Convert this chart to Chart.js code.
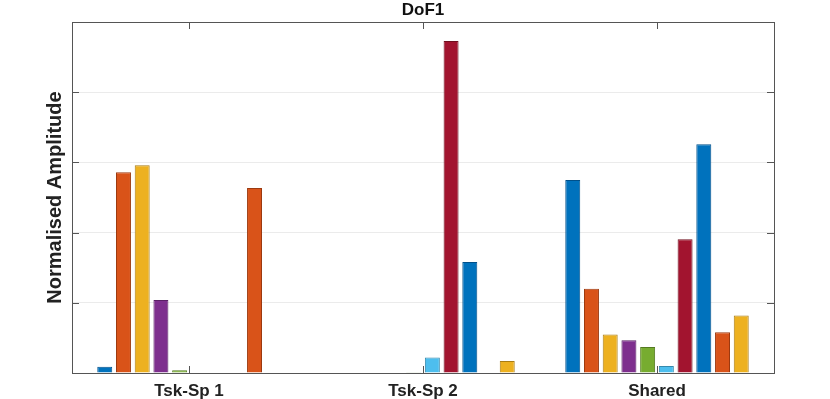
<!DOCTYPE html>
<html lang="en">
  <head>
    <meta charset="UTF-8" />
    <title>DoF1</title>
    <script src="https://cdn.jsdelivr.net/npm/chart.js"></script>
    <style>
      html, body { margin: 0; padding: 0; background: #fff; }
      #wrap { width: 830px; height: 399px; }
    </style>
  </head>
  <body>
    <div id="wrap"><canvas id="chart" width="830" height="399"></canvas></div>

    <script>
      // Categories and bar heights (10 bars per group)
      const categories = ["Tsk-Sp 1", "Tsk-Sp 2", "Shared"];
      const tskSp1 = [0.09, 2.86, 2.96, 1.04, 0.04, 0, 0, 0, 2.635, 0];
      const tskSp2 = [0, 0, 0, 0, 0.01, 0.22, 4.73, 1.58, 0, 0.17];
      const shared = [2.75, 1.2, 0.55, 0.466, 0.37, 0.1, 1.905, 3.26, 0.58, 0.82];
      const yTicks = [0, 1, 2, 3, 4, 5];
      const chartTitle = "DoF1";

      // MATLAB default colour order
      const fills = ["#0072BD", "#D95319", "#EDB120", "#7E2F8E", "#77AC30", "#4DBEEE", "#A2142F", "#0072BD", "#D95319", "#EDB120"];
      const edges = ["#00508a", "#9c3a10", "#a87d14", "#5a2066", "#547a20", "#3589ad", "#70101f", "#00508a", "#9c3a10", "#a87d14"];

      const groups = [tskSp1, tskSp2, shared];
      const datasets = fills.map((c, i) => ({
        label: "s" + (i + 1),
        data: groups.map((g) => g[i]),
        backgroundColor: c,
        borderColor: edges[i],
        borderWidth: 1,
        barPercentage: 0.8,
        categoryPercentage: 0.8,
      }));

      const font = "'Liberation Sans', Arial, Helvetica, sans-serif";

      // box around axes + inward tick marks + title centred over the axes, like MATLAB
      const boxPlugin = {
        id: "box",
        afterDraw(chart) {
          const { ctx, chartArea: a, scales } = chart;
          ctx.save();
          ctx.strokeStyle = "#555";
          ctx.lineWidth = 1;
          ctx.strokeRect(Math.round(a.left) + 0.5, Math.round(a.top) + 0.5,
            Math.round(a.right - a.left), Math.round(a.bottom - a.top));
          ctx.beginPath();
          yTicks.forEach((v) => {
            const y = Math.round(scales.y.getPixelForValue(v)) + 0.5;
            ctx.moveTo(a.left, y); ctx.lineTo(a.left + 7, y);
            ctx.moveTo(a.right, y); ctx.lineTo(a.right - 7, y);
          });
          categories.forEach((c, i) => {
            const x = Math.round(scales.x.getPixelForValue(i)) + 0.5;
            ctx.moveTo(x, a.bottom); ctx.lineTo(x, a.bottom - 7);
            ctx.moveTo(x, a.top); ctx.lineTo(x, a.top + 7);
          });
          ctx.stroke();

          ctx.fillStyle = "#111";
          ctx.font = "bold 17px " + font;
          ctx.textAlign = "center";
          ctx.textBaseline = "alphabetic";
          ctx.fillText(chartTitle, (a.left + a.right) / 2, 15);
          ctx.restore();
        },
      };

      new Chart(document.getElementById("chart"), {
        type: "bar",
        data: { labels: categories, datasets },
        plugins: [boxPlugin],
        options: {
          responsive: false,
          animation: false,
          layout: { padding: { left: 0, right: 56, top: 22, bottom: 0 } },
          plugins: {
            legend: { display: false },
            tooltip: { enabled: false },
            title: { display: false },
          },
          scales: {
            x: {
              grid: { display: false, drawTicks: false },
              border: { display: false },
              ticks: {
                color: "#222",
                padding: 8,
                font: { family: font, size: 17, weight: "bold" },
              },
              afterFit: (s) => { s.height = 26; },
            },
            y: {
              min: 0,
              max: 5,
              afterBuildTicks: (s) => { s.ticks = yTicks.map((v) => ({ value: v })); },
              grid: { color: "#ebebeb", drawTicks: false },
              border: { display: false },
              ticks: { display: false },
              title: {
                display: true,
                text: "Normalised Amplitude",
                color: "#222",
                font: { family: font, size: 20, weight: "bold" },
                padding: { top: 43, bottom: 0 },
              },
              afterFit: (s) => { s.width = 72; },
            },
          },
        },
      });
    </script>
  </body>
</html>
